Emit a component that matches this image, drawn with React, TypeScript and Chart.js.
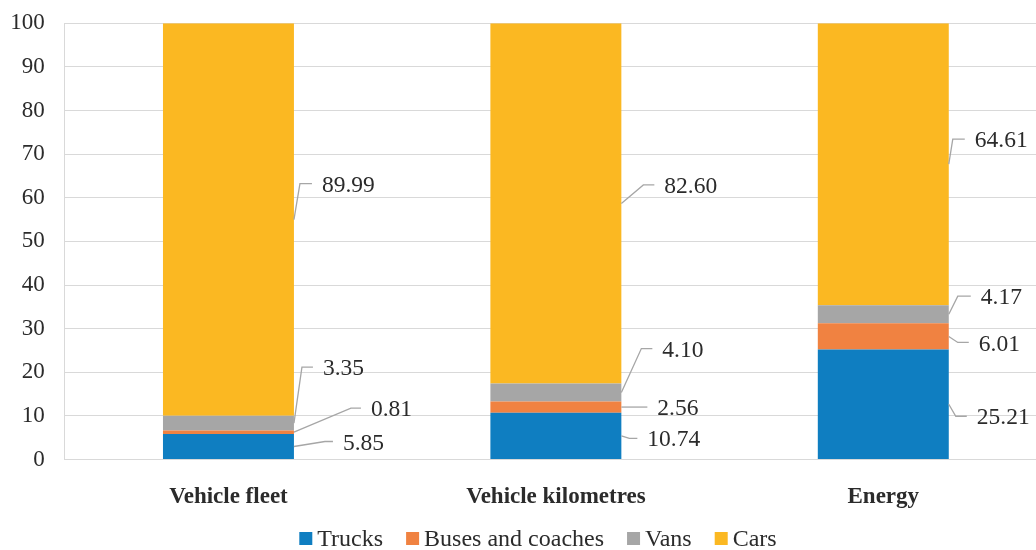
import React, { useEffect, useRef } from "react";
import { Chart, registerables } from "chart.js";

Chart.register(...registerables);

const categories = ["Vehicle fleet", "Vehicle kilometres", "Energy"];
const seriesNames = ["Trucks", "Buses and coaches", "Vans", "Cars"];
const trucks = [5.85, 10.74, 25.21];
const buses = [0.81, 2.56, 6.01];
const vans = [3.35, 4.1, 4.17];
const cars = [89.99, 82.6, 64.61];
const yTicks = [0, 10, 20, 30, 40, 50, 60, 70, 80, 90, 100];

const colors = ["#0F7EC1", "#F08241", "#A6A6A6", "#FBB822"];

// label leader layout (elbow dx, text dx, dy) per series, per category
const labelLayout = [
  [[31, 49, -5], [8, 26, 2.5], [7, 28, 12]],
  [[57, 77, -24], [0, 36, 0], [9, 30, 6]],
  [[8, 29, -56], [20, 41, -44], [9, 32, -18]],
  [[6, 28, -36], [22, 43, -18.5], [4, 26, -25]],
];

const FONT = "'Liberation Serif', 'Times New Roman', serif";
const TEXT = "#2B2B2B";

const labelPlugin = {
  id: "leaderLabels",
  afterDatasetsDraw(chart: any) {
    const ctx = chart.ctx;
    ctx.save();
    chart.data.datasets.forEach((ds: any, i: number) => {
      const meta = chart.getDatasetMeta(i);
      meta.data.forEach((el: any, j: number) => {
        const [ex, tx, dy] = labelLayout[i][j];
        const ax = el.x + el.width / 2;
        const ay = (el.y + el.base) / 2;
        const ly = ay + dy;
        ctx.strokeStyle = "#A6A6A6";
        ctx.lineWidth = 1.3;
        ctx.beginPath();
        ctx.moveTo(ax, ay);
        ctx.lineTo(ax + ex, ly);
        ctx.lineTo(ax + tx - 10, ly);
        ctx.stroke();
        ctx.fillStyle = TEXT;
        ctx.font = `23.5px ${FONT}`;
        ctx.textAlign = "left";
        ctx.textBaseline = "middle";
        ctx.fillText(Number(ds.data[j]).toFixed(2), ax + tx, ly + 2);
      });
    });
    ctx.restore();
  },
};

const legendPlugin = {
  id: "customLegend",
  afterDraw(chart: any) {
    const ctx = chart.ctx;
    ctx.save();
    ctx.font = `24px ${FONT}`;
    const box = 13;
    const gapText = 5;
    const gapItem = 23;
    const widths = seriesNames.map((n) => ctx.measureText(n).width);
    const total =
      widths.reduce((a, b) => a + b, 0) +
      seriesNames.length * (box + gapText) +
      (seriesNames.length - 1) * gapItem;
    let x = 538 - total / 2;
    const baseline = 546;
    seriesNames.forEach((n, i) => {
      ctx.fillStyle = colors[i];
      ctx.fillRect(x, 532, box, box);
      x += box + gapText;
      ctx.fillStyle = TEXT;
      ctx.textAlign = "left";
      ctx.textBaseline = "alphabetic";
      ctx.fillText(n, x, baseline);
      x += widths[i] + gapItem;
    });
    ctx.restore();
  },
};

export default function App() {
  const ref = useRef<HTMLCanvasElement>(null);
  useEffect(() => {
    if (!ref.current) return;
    const series = [trucks, buses, vans, cars];
    const chart = new Chart(ref.current, {
      type: "bar",
      data: {
        labels: categories,
        datasets: series.map((d, i) => ({
          label: seriesNames[i],
          data: d,
          backgroundColor: colors[i],
          borderWidth: 0,
          barPercentage: 0.4,
          categoryPercentage: 1,
        })),
      },
      options: {
        animation: false,
        responsive: false,
        devicePixelRatio: 1,
        layout: { padding: { left: 0, top: 23.3, right: 13, bottom: 40.5 } },
        plugins: {
          legend: { display: false },
          tooltip: { enabled: false },
        },
        scales: {
          x: {
            stacked: true,
            grid: { display: false },
            border: { display: false },
            ticks: {
              color: TEXT,
              padding: 18,
              font: { family: FONT, size: 23, weight: "bold", lineHeight: 1 },
              maxRotation: 0,
            },
            afterFit: (s: any) => {
              s.height = 50;
            },
          },
          y: {
            stacked: true,
            min: 0,
            max: 100,
            afterBuildTicks: (s: any) => {
              s.ticks = yTicks.map((v) => ({ value: v }));
            },
            grid: { color: "#D9D9D9", lineWidth: 1, drawTicks: false },
            border: { display: true, color: "#D9D9D9", width: 1 },
            ticks: {
              color: TEXT,
              padding: 20,
              font: { family: FONT, size: 23 },
            },
            afterFit: (s: any) => {
              s.width = 64.75;
              s.paddingTop = 0;
              s.paddingBottom = 0;
            },
          },
        },
      },
      plugins: [labelPlugin, legendPlugin],
    } as any);
    return () => chart.destroy();
  }, []);
  return (
    <div
      style={{
        position: "fixed",
        left: 0,
        top: 0,
        width: 1036,
        height: 550,
        overflow: "hidden",
        background: "#fff",
      }}
    >
      <canvas ref={ref} width={1060} height={550} style={{ display: "block" }} />
    </div>
  );
}
